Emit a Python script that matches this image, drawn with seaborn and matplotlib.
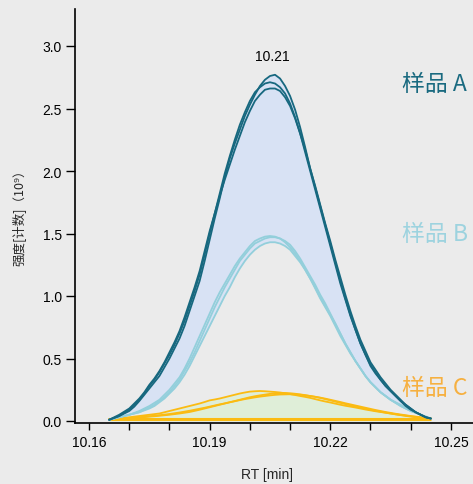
import numpy as np
import pandas as pd
import matplotlib
matplotlib.use("Agg")
import matplotlib.pyplot as plt
import seaborn as sns

# Retention time grid (min), 0.00125 min spacing from 10.165 to 10.245
rt = [10.16500, 10.16625, 10.16750, 10.16875, 10.17000, 10.17125, 10.17250,
      10.17375, 10.17500, 10.17625, 10.17750, 10.17875, 10.18000, 10.18125,
      10.18250, 10.18375, 10.18500, 10.18625, 10.18750, 10.18875, 10.19000,
      10.19125, 10.19250, 10.19375, 10.19500, 10.19625, 10.19750, 10.19875,
      10.20000, 10.20125, 10.20250, 10.20375, 10.20500, 10.20625, 10.20750,
      10.20875, 10.21000, 10.21125, 10.21250, 10.21375, 10.21500, 10.21625,
      10.21750, 10.21875, 10.22000, 10.22125, 10.22250, 10.22375, 10.22500,
      10.22625, 10.22750, 10.22875, 10.23000, 10.23125, 10.23250, 10.23375,
      10.23500, 10.23625, 10.23750, 10.23875, 10.24000, 10.24125, 10.24250,
      10.24375, 10.24500]

# Intensity (1e9 counts), three replicate injections per sample
sample_a_1 = [0.01, 0.025, 0.04, 0.06, 0.08, 0.115, 0.16, 0.21, 0.26, 0.31, 0.36,
              0.43, 0.50, 0.58, 0.66, 0.76, 0.88, 1.00, 1.12, 1.28, 1.45, 1.62,
              1.78, 1.95, 2.10, 2.22, 2.33, 2.44, 2.53, 2.61, 2.68, 2.73, 2.76,
              2.77, 2.74, 2.68, 2.60, 2.49, 2.35, 2.19, 2.02, 1.87, 1.72, 1.57,
              1.42, 1.27, 1.12, 0.98, 0.85, 0.73, 0.62, 0.53, 0.44, 0.38, 0.33,
              0.28, 0.24, 0.20, 0.16, 0.12, 0.09, 0.07, 0.05, 0.03, 0.02]
sample_a_2 = [0.01, 0.025, 0.04, 0.065, 0.09, 0.13, 0.17, 0.22, 0.28, 0.33, 0.39,
              0.46, 0.53, 0.61, 0.70, 0.80, 0.92, 1.04, 1.17, 1.33, 1.50, 1.66,
              1.82, 1.98, 2.12, 2.25, 2.37, 2.47, 2.56, 2.63, 2.67, 2.70, 2.71,
              2.70, 2.67, 2.62, 2.54, 2.43, 2.30, 2.15, 2.00, 1.85, 1.70, 1.55,
              1.40, 1.25, 1.10, 0.97, 0.84, 0.73, 0.62, 0.53, 0.45, 0.39, 0.33,
              0.28, 0.24, 0.20, 0.16, 0.13, 0.10, 0.07, 0.05, 0.03, 0.02]
sample_a_3 = [0.01, 0.03, 0.05, 0.075, 0.10, 0.14, 0.18, 0.23, 0.29, 0.34, 0.40,
              0.47, 0.55, 0.63, 0.72, 0.83, 0.95, 1.07, 1.20, 1.36, 1.52, 1.66,
              1.80, 1.93, 2.05, 2.17, 2.28, 2.39, 2.48, 2.56, 2.61, 2.65, 2.66,
              2.66, 2.64, 2.59, 2.52, 2.42, 2.30, 2.17, 2.02, 1.88, 1.73, 1.58,
              1.44, 1.29, 1.15, 1.01, 0.88, 0.76, 0.65, 0.56, 0.47, 0.41, 0.35,
              0.30, 0.25, 0.21, 0.17, 0.13, 0.10, 0.07, 0.05, 0.03, 0.02]

sample_b_1 = [0.01, 0.02, 0.03, 0.04, 0.05, 0.065, 0.08, 0.10, 0.12, 0.145, 0.17,
              0.21, 0.25, 0.30, 0.35, 0.42, 0.50, 0.59, 0.68, 0.77, 0.86, 0.95,
              1.03, 1.10, 1.17, 1.24, 1.30, 1.35, 1.40, 1.44, 1.46, 1.475, 1.48,
              1.475, 1.46, 1.43, 1.39, 1.34, 1.28, 1.21, 1.14, 1.06, 0.98, 0.91,
              0.84, 0.76, 0.68, 0.61, 0.54, 0.48, 0.42, 0.36, 0.31, 0.27, 0.23,
              0.20, 0.17, 0.15, 0.13, 0.11, 0.09, 0.07, 0.05, 0.035, 0.02]
sample_b_2 = [0.01, 0.02, 0.03, 0.04, 0.05, 0.06, 0.07, 0.09, 0.11, 0.13, 0.16,
              0.19, 0.23, 0.28, 0.33, 0.40, 0.47, 0.55, 0.64, 0.73, 0.82, 0.91,
              0.99, 1.07, 1.14, 1.21, 1.28, 1.33, 1.38, 1.42, 1.44, 1.46, 1.47,
              1.47, 1.46, 1.44, 1.41, 1.36, 1.30, 1.23, 1.16, 1.09, 1.01, 0.94,
              0.86, 0.78, 0.70, 0.62, 0.55, 0.48, 0.42, 0.36, 0.31, 0.27, 0.23,
              0.20, 0.17, 0.145, 0.12, 0.10, 0.08, 0.065, 0.05, 0.035, 0.02]
sample_b_3 = [0.01, 0.02, 0.03, 0.04, 0.05, 0.06, 0.07, 0.085, 0.10, 0.12, 0.15,
              0.18, 0.22, 0.26, 0.31, 0.37, 0.44, 0.52, 0.60, 0.68, 0.76, 0.84,
              0.92, 1.00, 1.07, 1.15, 1.22, 1.28, 1.33, 1.37, 1.40, 1.42, 1.43,
              1.43, 1.42, 1.40, 1.37, 1.32, 1.27, 1.21, 1.14, 1.07, 0.99, 0.92,
              0.85, 0.78, 0.70, 0.62, 0.55, 0.48, 0.42, 0.36, 0.31, 0.27, 0.23,
              0.20, 0.17, 0.145, 0.12, 0.10, 0.08, 0.065, 0.05, 0.035, 0.02]

sample_c_1 = [0.015, 0.018, 0.02, 0.025, 0.03, 0.035, 0.04, 0.045, 0.05, 0.055,
              0.06, 0.07, 0.08, 0.09, 0.10, 0.11, 0.12, 0.13, 0.14, 0.152, 0.165,
              0.172, 0.18, 0.19, 0.20, 0.21, 0.22, 0.228, 0.235, 0.238, 0.24,
              0.238, 0.235, 0.232, 0.228, 0.222, 0.215, 0.208, 0.20, 0.193,
              0.185, 0.175, 0.165, 0.156, 0.148, 0.139, 0.13, 0.122, 0.115,
              0.108, 0.10, 0.092, 0.085, 0.078, 0.072, 0.066, 0.06, 0.053,
              0.047, 0.041, 0.035, 0.03, 0.025, 0.022, 0.02]
sample_c_2 = [0.015, 0.016, 0.018, 0.02, 0.022, 0.025, 0.028, 0.031, 0.035, 0.038,
              0.042, 0.046, 0.05, 0.055, 0.06, 0.066, 0.072, 0.081, 0.09, 0.10,
              0.11, 0.12, 0.13, 0.14, 0.15, 0.16, 0.17, 0.18, 0.19, 0.198, 0.205,
              0.211, 0.217, 0.221, 0.224, 0.224, 0.222, 0.218, 0.213, 0.207,
              0.20, 0.193, 0.185, 0.175, 0.165, 0.155, 0.145, 0.135, 0.125,
              0.116, 0.108, 0.099, 0.09, 0.082, 0.075, 0.067, 0.06, 0.054,
              0.048, 0.043, 0.038, 0.033, 0.028, 0.025, 0.022]
sample_c_3 = [0.015, 0.016, 0.018, 0.02, 0.023, 0.026, 0.03, 0.034, 0.038, 0.042,
              0.046, 0.051, 0.056, 0.062, 0.068, 0.075, 0.082, 0.09, 0.098,
              0.106, 0.115, 0.124, 0.133, 0.141, 0.15, 0.158, 0.167, 0.175,
              0.182, 0.189, 0.195, 0.20, 0.205, 0.209, 0.212, 0.213, 0.214,
              0.212, 0.21, 0.205, 0.20, 0.194, 0.187, 0.179, 0.17, 0.161, 0.152,
              0.142, 0.133, 0.124, 0.115, 0.106, 0.097, 0.088, 0.08, 0.072,
              0.065, 0.058, 0.052, 0.046, 0.04, 0.035, 0.03, 0.026, 0.022]

baseline_level = 0.015
apex_rt = 10.2055
apex_rt_label = "10.21"
apex_label_height = 2.92

sample_names = ["样品 A", "样品 B", "样品 C"]
sample_label_rt = 10.2379
sample_label_heights = [2.70, 1.50, 0.265]

x_ticks = [10.16, 10.17, 10.18, 10.19, 10.20, 10.21, 10.22, 10.23, 10.24, 10.25]
x_tick_labels = ["10.16", "", "", "10.19", "", "", "10.22", "", "", "10.25"]
y_ticks = [0.0, 0.5, 1.0, 1.5, 2.0, 2.5, 3.0]
y_tick_labels = ["0.0", "0.5", "1.0", "1.5", "2.0", "2.5", "3.0"]

# Colours
col_a = "#17687f"
col_b = "#93cfdb"
col_c = "#fbbb12"
lab_a = "#1a6a80"
lab_b = "#9dd3df"
lab_c = "#f6b040"
fill_ab = "#d8e2f4"
fill_c = "#dfeed8"
bg = "#ebebeb"

sns.set_theme(style="ticks")
plt.rcParams["font.family"] = ["Liberation Sans", "Noto Sans CJK SC", "DejaVu Sans"]
cjk = ["Noto Sans CJK SC", "DejaVu Sans"]

traces = {
    "A1": sample_a_1, "A2": sample_a_2, "A3": sample_a_3,
    "B1": sample_b_1, "B2": sample_b_2, "B3": sample_b_3,
    "C1": sample_c_1, "C2": sample_c_2, "C3": sample_c_3,
}
df = pd.concat(
    [pd.DataFrame({"rt": rt, "intensity": v, "trace": k}) for k, v in traces.items()],
    ignore_index=True,
)
palette = {k: (col_a if k[0] == "A" else col_b if k[0] == "B" else col_c) for k in traces}

fig = plt.figure(figsize=(4.73, 4.85), dpi=100, facecolor=bg)
ax = fig.add_axes([75 / 473, 61 / 485, 398 / 473, 414 / 485])
ax.set_facecolor(bg)

x = np.array(rt)
a_env = np.max([sample_a_1, sample_a_2, sample_a_3], axis=0)
b_low = np.min([sample_b_1, sample_b_2, sample_b_3], axis=0)
c_env = np.max([sample_c_1, sample_c_2, sample_c_3], axis=0)

ax.fill_between(x, b_low, a_env, color=fill_ab, lw=0, zorder=1)
ax.fill_between(x, 0, c_env, color=fill_c, lw=0, zorder=1)

# Baseline shared by the traces
ax.plot(x[[0, -1]], [baseline_level, baseline_level], color=col_c, lw=2.2,
        solid_capstyle="butt", zorder=2)

order = ["C1", "C2", "C3", "B1", "B2", "B3", "A1", "A2", "A3"]
sns.lineplot(data=df, x="rt", y="intensity", hue="trace", hue_order=order,
             palette=palette, estimator=None, sort=False, lw=1.3,
             legend=False, ax=ax, zorder=3)

ax.set_xlim(10.1565, 10.2555)
ax.set_ylim(-0.016, 3.296)
ax.set_xticks(x_ticks)
ax.set_xticklabels(x_tick_labels)
ax.set_yticks(y_ticks)
ax.set_yticklabels(y_tick_labels)
ax.tick_params(axis="both", colors="black", labelsize=10, width=1.0)
ax.tick_params(axis="y", length=6.5, pad=3)
ax.tick_params(axis="x", length=5, pad=3.5)
for s in ("top", "right"):
    ax.spines[s].set_visible(False)
for s in ("left", "bottom"):
    ax.spines[s].set_color("black")
    ax.spines[s].set_linewidth(1.2)

ax.set_xlabel("RT [min]", fontsize=10, va="center")
ax.xaxis.set_label_coords(0.482, -0.123)
ax.set_ylabel("强度[计数]（10⁹）", fontsize=9, family=cjk, va="center")
ax.yaxis.set_label_coords(-0.141, 0.505)

ax.text(apex_rt, apex_label_height, apex_rt_label, ha="center", va="center",
        fontsize=10, color="black")

for name, h, c in zip(sample_names, sample_label_heights, [lab_a, lab_b, lab_c]):
    ax.text(sample_label_rt, h, name, ha="left", va="center", fontsize=16.5,
            color=c, family=cjk)

fig.savefig("out.png", dpi=100, facecolor=bg)
